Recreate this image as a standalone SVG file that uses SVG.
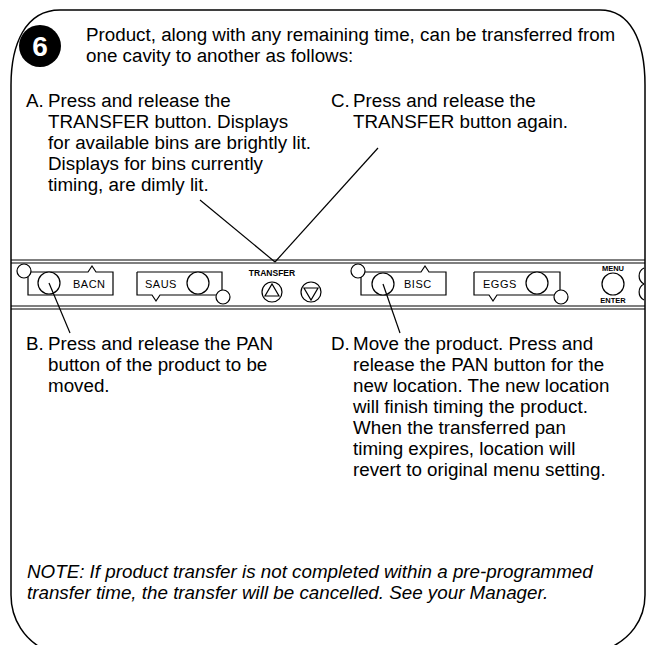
<svg xmlns="http://www.w3.org/2000/svg" width="651" height="645" viewBox="0 0 651 645">
<style>
.t{font-family:"Liberation Sans",Arial,sans-serif;font-size:18.8px;fill:#000}
.n{font-style:italic}
.ln{stroke:#000;stroke-width:1.2;fill:none}
.sh{stroke:#000;stroke-width:1.2;fill:#fff}
.lcd{font-family:"Liberation Sans",Arial,sans-serif;font-size:11px;fill:#000;letter-spacing:0.5px}
.sm{font-family:"Liberation Sans",Arial,sans-serif;font-size:8.5px;font-weight:bold;fill:#000;text-anchor:middle}
</style>
<rect width="651" height="645" fill="#fff"/>
<path id="border" d="M11,85 C11,45 25,10 60,10 H600 C630,10 645,40 645,85 V595 C645,620 630,640 605,650 M11,85 V595 C11,620 25,640 45,650" fill="none" stroke="#000" stroke-width="1.5"/>
<g id="step">
<circle cx="40" cy="46" r="21" fill="#000"/>
<text x="40" y="56" text-anchor="middle" style="font-family:'Liberation Sans',Arial,sans-serif;font-weight:bold;font-size:28px;fill:#fff">6</text>
<text class="t" x="86" y="41">Product, along with any remaining time, can be transferred from</text>
<text class="t" x="86" y="62">one cavity to another as follows:</text>
</g>
<g id="textA">
<text class="t" x="26" y="107">A.</text>
<text class="t" x="48" y="107">Press and release the</text>
<text class="t" x="48" y="128">TRANSFER button. Displays</text>
<text class="t" x="48" y="149">for available bins are brightly lit.</text>
<text class="t" x="48" y="170">Displays for bins currently</text>
<text class="t" x="48" y="191">timing, are dimly lit.</text>
</g>
<g id="textC">
<text class="t" x="331" y="107">C.</text>
<text class="t" x="353" y="107">Press and release the</text>
<text class="t" x="353" y="128">TRANSFER button again.</text>
</g>
<g id="panel">
<line class="ln" x1="11" y1="260" x2="645" y2="260"/>
<line class="ln" x1="11" y1="263" x2="645" y2="263"/>
<line class="ln" x1="11" y1="306" x2="645" y2="306"/>
<line class="ln" x1="11" y1="309" x2="645" y2="309"/>
</g>
<g id="bacn">
<path class="ln" d="M30,272 H88 L92,266 L96,272 H113 V295 H28 V277"/>
<circle class="sh" cx="24" cy="271" r="7"/>
<circle class="sh" cx="49" cy="283" r="11"/>
<text class="lcd" x="73" y="288">BACN</text>
</g>
<g id="saus">
<path class="ln" d="M137,272 H222 V290 M217,295 H160 L156,301 L152,295 H137 V272"/>
<circle class="sh" cx="223" cy="297" r="7"/>
<circle class="sh" cx="198" cy="283" r="11"/>
<text class="lcd" x="145" y="288">SAUS</text>
</g>
<g id="transfer">
<text class="sm" x="272" y="276">TRANSFER</text>
<circle class="sh" cx="272" cy="292" r="10"/>
<path class="ln" d="M265,296 H279 L272,284 Z"/>
<circle class="sh" cx="311" cy="292" r="10"/>
<path class="ln" d="M304,288 H318 L311,300 Z"/>
</g>
<g id="bisc">
<path class="ln" d="M363,272 H421 L425,266 L429,272 H446 V295 H361 V277"/>
<circle class="sh" cx="358" cy="271" r="7"/>
<circle class="sh" cx="383" cy="284" r="11"/>
<text class="lcd" x="404" y="288">BISC</text>
</g>
<g id="eggs">
<path class="ln" d="M474,272 H560 V290 M555,295 H497 L493,301 L489,295 H474 V272"/>
<circle class="sh" cx="561" cy="297" r="7"/>
<circle class="sh" cx="537" cy="283" r="11"/>
<text class="lcd" x="483" y="288">EGGS</text>
</g>
<g id="menu">
<text class="sm" x="613" y="271" style="font-size:7.5px">MENU</text>
<circle class="sh" cx="613" cy="284" r="11"/>
<text class="sm" x="613" y="303" style="font-size:7.5px">ENTER</text>
<path class="ln" d="M644,268 A9,9 0 0 0 644,284 M644,284 A9,9 0 0 0 644,300"/>
</g>
<g id="connectors">
<line class="ln" x1="200" y1="200" x2="275" y2="262"/>
<line class="ln" x1="378" y1="148" x2="275" y2="262"/>
<line class="ln" x1="49" y1="283" x2="70" y2="333"/>
<line class="ln" x1="383" y1="284" x2="400" y2="333"/>
</g>
<g id="textB">
<text class="t" x="26" y="350">B.</text>
<text class="t" x="48" y="350">Press and release the PAN</text>
<text class="t" x="48" y="371">button of the product to be</text>
<text class="t" x="48" y="392">moved.</text>
</g>
<g id="textD">
<text class="t" x="331" y="350">D.</text>
<text class="t" x="353" y="350">Move the product. Press and</text>
<text class="t" x="353" y="371">release the PAN button for the</text>
<text class="t" x="353" y="392">new location. The new location</text>
<text class="t" x="353" y="413">will finish timing the product.</text>
<text class="t" x="353" y="434">When the transferred pan</text>
<text class="t" x="353" y="455">timing expires, location will</text>
<text class="t" x="353" y="476">revert to original menu setting.</text>
</g>
<g id="note">
<text class="t n" x="27" y="578">NOTE: If product transfer is not completed within a pre-programmed</text>
<text class="t n" x="27" y="599">transfer time, the transfer will be cancelled. See your Manager.</text>
</g>
</svg>
